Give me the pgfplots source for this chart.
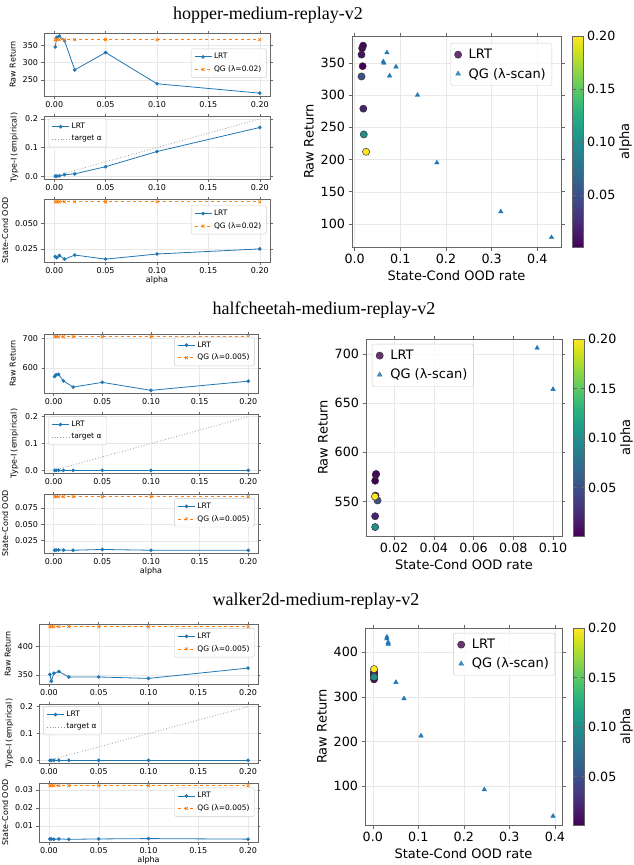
\documentclass[border=0pt]{standalone}
\usepackage{fontspec}
\setmainfont{DejaVu Sans}
\newfontfamily\titlefont{Liberation Serif}
\usepackage{pgfplots}
\pgfplotsset{compat=1.18}
\definecolor{Cblue}{HTML}{1F77B4}
\definecolor{Corange}{HTML}{FF7F0E}
\definecolor{vdark}{HTML}{440154}

\pgfplotsset{
  base/.style={scale only axis, anchor=north west,
    axis line style={black!60}, tick style={black!60, line width=0.5pt},
    tick align=outside, grid=major, grid style={black!9, line width=0.4pt},
    /pgf/number format/assume math mode=true, scaled ticks=false,
    legend cell align=left,
    legend style={draw=black!20, rounded corners=1.5pt, fill=white, fill opacity=0.8, text opacity=1}},
  small/.style={base, xmin=-0.00995, xmax=0.20995,
    xtick={0,0.05,0.1,0.15,0.2},
    xticklabel style={/pgf/number format/.cd, fixed, fixed zerofill, precision=2},
    tick label style={font=\fontsize{8}{9}\selectfont},
    label style={font=\fontsize{8}{9}\selectfont},
    xlabel shift=-5pt,
    legend style={font=\fontsize{7.5}{8.5}\selectfont, inner xsep=3pt, inner ysep=2.5pt, row sep=1.5pt},
    major tick length=2.5pt},
  big/.style={base,
    tick label style={font=\fontsize{12.7}{14}\selectfont},
    label style={font=\fontsize{13}{15}\selectfont},
    legend style={font=\fontsize{13}{15}\selectfont, inner xsep=4pt, inner ysep=4pt, row sep=4pt,
      /tikz/every odd column/.append style={column sep=5pt}},
    major tick length=3.5pt,
    colormap/viridis, point meta min=0.001, point meta max=0.2,
    colorbar,
    xlabel={State-Cond OOD rate}, ylabel={Raw Return}},
  cbar/.style={colorbar style={at={(parent axis.north east)}, anchor=north west,
    xshift=3pt, width=11pt, scale only axis, height=#1,
    ytick={0.05,0.1,0.15,0.2}, yticklabel pos=right, ylabel near ticks,
    yticklabel style={/pgf/number format/.cd, fixed, fixed zerofill, precision=2, assume math mode=true},
    tick label style={font=\fontsize{12.7}{14}\selectfont},
    ylabel={alpha}, ylabel style={font=\fontsize{13}{15}\selectfont}, ylabel shift=-3pt,
    axis line style={black!60}, tick style={black!60}, major tick length=3.5pt}},
  lrt/.style={Cblue, line width=0.8pt, mark=*, mark size=1.4pt},
  qg/.style={Corange, line width=0.8pt, dashed, mark=x, mark size=2pt, mark options={solid}},
  tgt/.style={black!40, dotted, line width=0.8pt},
  lrtpts/.style={scatter, only marks, mark=*, mark size=3.6pt, scatter src=explicit,
    scatter/use mapped color={draw=black!80, fill=mapped color}, line width=0.5pt, forget plot},
  qgpts/.style={only marks, mark=triangle*, mark size=2.6pt, Cblue, forget plot},
  ptfmt/.style={yticklabel style={/pgf/number format/.cd, fixed, fixed zerofill, precision=1}},
  lrtleg/.style={only marks, mark=*, mark size=3.6pt, mark options={draw=black!80, fill=vdark, line width=0.5pt},
    legend image code/.code={\draw[mark repeat=2, mark phase=2, ##1] plot coordinates {(0pt,0pt) (13pt,0pt) (26pt,0pt)};}},
  qgleg/.style={only marks, mark=triangle*, mark size=2.8pt, Cblue,
    legend image code/.code={\draw[mark repeat=2, mark phase=2, ##1] plot coordinates {(0pt,0pt) (13pt,0pt) (26pt,0pt)};}},
}

\begin{document}
\begin{tikzpicture}
\path[use as bounding box] (0pt,0pt) rectangle (634pt,-865pt);

% ---------------- hopper ----------------
\node[font=\titlefont\fontsize{18}{20}\selectfont] at (268pt,-15pt) {hopper-medium-replay-v2};

\begin{axis}[small, at={(44pt,-33pt)}, width=226pt, height=63pt,
  ymin=203.75, ymax=385.25, ytick={250,300,350}, ylabel={Raw Return},
  legend style={at={(0.985,0.52)}, anchor=east}]
\addplot[lrt] coordinates {(0.001,345) (0.0025,373) (0.005,377) (0.01,363) (0.02,279) (0.05,329) (0.1,239) (0.2,212)};
\addlegendentry{LRT}
\addplot[qg] coordinates {(0.001,366) (0.0025,366) (0.005,366) (0.01,366) (0.02,366) (0.05,366) (0.1,366) (0.2,366)};
\addlegendentry{QG (λ=0.02)}
\end{axis}

\begin{axis}[small, ptfmt, at={(44pt,-116pt)}, width=226pt, height=63pt,
  ymin=-0.01, ymax=0.21, ytick={0,0.1,0.2}, ylabel={Type-I (empirical)},
  legend style={at={(0.02,0.96)}, anchor=north west}]
\addplot[lrt] coordinates {(0.001,0) (0.0025,0) (0.005,0.001) (0.01,0.005) (0.02,0.008) (0.05,0.033) (0.1,0.086) (0.2,0.170)};
\addlegendentry{LRT}
\addplot[tgt] coordinates {(0.001,0.001) (0.0025,0.0025) (0.005,0.005) (0.01,0.01) (0.02,0.02) (0.05,0.05) (0.1,0.1) (0.2,0.2)};
\addlegendentry{target α}
\end{axis}

\begin{axis}[small, at={(44pt,-199pt)}, width=226pt, height=63pt,
  ymin=0.0122, ymax=0.0737, ytick={0.025,0.05},
  yticklabel style={/pgf/number format/.cd, fixed, fixed zerofill, precision=3},
  ylabel={State-Cond OOD}, xlabel={alpha},
  legend style={at={(0.985,0.9)}, anchor=north east}]
\addplot[lrt] coordinates {(0.001,0.0175) (0.0025,0.0165) (0.005,0.0185) (0.01,0.0150) (0.02,0.0190) (0.05,0.0150) (0.1,0.0200) (0.2,0.0250)};
\addlegendentry{LRT}
\addplot[qg] coordinates {(0.001,0.0709) (0.0025,0.0709) (0.005,0.0709) (0.01,0.0709) (0.02,0.0709) (0.05,0.0709) (0.1,0.0709) (0.2,0.0709)};
\addlegendentry{QG (λ=0.02)}
\end{axis}

\begin{axis}[big, cbar=211pt, at={(352pt,-36pt)}, width=209pt, height=211pt,
  xmin=-0.0058, xmax=0.4518, ymin=64.1, ymax=391.9,
  xtick={0,0.1,0.2,0.3,0.4}, ytick={100,150,200,250,300,350},
  xticklabel style={/pgf/number format/.cd, fixed, fixed zerofill, precision=1},
  legend style={at={(0.957,0.967)}, anchor=north east}]
\addplot[lrtpts] table[meta=a] {
x y a
0.0175 345 0.001
0.0165 373 0.0025
0.0185 377 0.005
0.0150 363 0.01
0.0190 279 0.02
0.0150 329 0.05
0.0200 239 0.1
0.0250 212 0.2
};
\addplot[qgpts] coordinates {(0.0707,366) (0.0626,352) (0.0640,350) (0.0906,344) (0.0765,330) (0.1377,300) (0.180,195) (0.320,119) (0.431,79)};
\addlegendimage{lrtleg}
\addlegendentry{LRT}
\addlegendimage{qgleg}
\addlegendentry{QG (λ-scan)}
\end{axis}

% ---------------- halfcheetah ----------------
\node[font=\titlefont\fontsize{18}{20}\selectfont] at (324pt,-310pt) {halfcheetah-medium-replay-v2};

\begin{axis}[small, at={(44pt,-334pt)}, width=214pt, height=59pt,
  ymin=514.9, ymax=715.1, ytick={600,700}, ylabel={Raw Return},
  legend style={at={(0.985,0.95)}, anchor=north east}]
\addplot[lrt] coordinates {(0.001,571) (0.0025,577) (0.005,578) (0.01,556) (0.02,535) (0.05,551) (0.1,524) (0.2,555)};
\addlegendentry{LRT}
\addplot[qg] coordinates {(0.001,706) (0.0025,706) (0.005,706) (0.01,706) (0.02,706) (0.05,706) (0.1,706) (0.2,706)};
\addlegendentry{QG (λ=0.005)}
\end{axis}

\begin{axis}[small, ptfmt, at={(44pt,-414pt)}, width=214pt, height=59pt,
  ymin=-0.01, ymax=0.21, ytick={0,0.1,0.2}, ylabel={Type-I (empirical)},
  legend style={at={(0.02,0.96)}, anchor=north west}]
\addplot[lrt] coordinates {(0.001,0) (0.0025,0) (0.005,0) (0.01,0) (0.02,0) (0.05,0) (0.1,0) (0.2,0)};
\addlegendentry{LRT}
\addplot[tgt] coordinates {(0.001,0.001) (0.0025,0.0025) (0.005,0.005) (0.01,0.01) (0.02,0.02) (0.05,0.05) (0.1,0.1) (0.2,0.2)};
\addlegendentry{target α}
\end{axis}

\begin{axis}[small, at={(44pt,-494pt)}, width=214pt, height=59pt,
  ymin=0.0063, ymax=0.0961, ytick={0.025,0.05,0.075},
  yticklabel style={/pgf/number format/.cd, fixed, fixed zerofill, precision=3},
  ylabel={State-Cond OOD}, xlabel={alpha},
  legend style={at={(0.985,0.93)}, anchor=north east}]
\addplot[lrt] coordinates {(0.001,0.0105) (0.0025,0.0108) (0.005,0.0110) (0.01,0.0107) (0.02,0.0105) (0.05,0.0117) (0.1,0.0105) (0.2,0.0104)};
\addlegendentry{LRT}
\addplot[qg] coordinates {(0.001,0.092) (0.0025,0.092) (0.005,0.092) (0.01,0.092) (0.02,0.092) (0.05,0.092) (0.1,0.092) (0.2,0.092)};
\addlegendentry{QG (λ=0.005)}
\end{axis}

\begin{axis}[big, cbar=197pt, at={(366pt,-339pt)}, width=196pt, height=197pt,
  xmin=0.0059, xmax=0.1045, ymin=514.9, ymax=715.1,
  xtick={0.02,0.04,0.06,0.08,0.1}, ytick={550,600,650,700},
  xticklabel style={/pgf/number format/.cd, fixed, fixed zerofill, precision=2},
  legend style={at={(0.03,0.975)}, anchor=north west}]
\addplot[lrtpts] table[meta=a] {
x y a
0.0105 571 0.001
0.0108 577 0.0025
0.0110 578 0.005
0.0107 556 0.01
0.0105 535 0.02
0.0117 551 0.05
0.0105 524 0.1
0.0104 555 0.2
};
\addplot[qgpts] coordinates {(0.092,706) (0.100,664)};
\addlegendimage{lrtleg}
\addlegendentry{LRT}
\addlegendimage{qgleg}
\addlegendentry{QG (λ-scan)}
\end{axis}

% ---------------- walker2d ----------------
\node[font=\titlefont\fontsize{18}{20}\selectfont] at (316pt,-601pt) {walker2d-medium-replay-v2};

\begin{axis}[small, at={(39pt,-624pt)}, width=219pt, height=60pt,
  ymin=334.25, ymax=438.75, ytick={350,400}, ylabel={Raw Return},
  legend style={at={(0.985,0.93)}, anchor=north east}]
\addplot[lrt] coordinates {(0.001,351) (0.0025,339) (0.005,353) (0.01,356) (0.02,346.5) (0.05,346.5) (0.1,344) (0.2,362)};
\addlegendentry{LRT}
\addplot[qg] coordinates {(0.001,434) (0.0025,434) (0.005,434) (0.01,434) (0.02,434) (0.05,434) (0.1,434) (0.2,434)};
\addlegendentry{QG (λ=0.005)}
\end{axis}

\begin{axis}[small, ptfmt, at={(39pt,-704pt)}, width=219pt, height=59pt,
  ymin=-0.01, ymax=0.21, ytick={0,0.1,0.2}, ylabel={Type-I (empirical)},
  legend style={at={(0.02,0.96)}, anchor=north west}]
\addplot[lrt] coordinates {(0.001,0) (0.0025,0) (0.005,0) (0.01,0) (0.02,0) (0.05,0) (0.1,0) (0.2,0)};
\addlegendentry{LRT}
\addplot[tgt] coordinates {(0.001,0.001) (0.0025,0.0025) (0.005,0.005) (0.01,0.01) (0.02,0.02) (0.05,0.05) (0.1,0.1) (0.2,0.2)};
\addlegendentry{target α}
\end{axis}

\begin{axis}[small, at={(39pt,-783pt)}, width=219pt, height=59pt,
  ymin=0.0011, ymax=0.0339, ytick={0.01,0.02,0.03},
  yticklabel style={/pgf/number format/.cd, fixed, fixed zerofill, precision=2},
  ylabel={State-Cond OOD}, xlabel={alpha},
  legend style={at={(0.985,0.92)}, anchor=north east}]
\addplot[lrt] coordinates {(0.001,0.0028) (0.0025,0.0028) (0.005,0.0026) (0.01,0.0028) (0.02,0.0026) (0.05,0.0028) (0.1,0.0030) (0.2,0.0027)};
\addlegendentry{LRT}
\addplot[qg] coordinates {(0.001,0.0324) (0.0025,0.0324) (0.005,0.0324) (0.01,0.0324) (0.02,0.0324) (0.05,0.0324) (0.1,0.0324) (0.2,0.0324)};
\addlegendentry{QG (λ=0.005)}
\end{axis}

\begin{axis}[big, cbar=197pt, at={(365pt,-628pt)}, width=197pt, height=197pt,
  xmin=-0.0171, xmax=0.4157, ymin=13, ymax=454,
  xtick={0,0.1,0.2,0.3,0.4}, ytick={100,200,300,400},
  xticklabel style={/pgf/number format/.cd, fixed, fixed zerofill, precision=1},
  legend style={at={(0.965,0.975)}, anchor=north east}]
\addplot[lrtpts] table[meta=a] {
x y a
0.0028 351 0.001
0.0028 339 0.0025
0.0026 353 0.005
0.0028 356 0.01
0.0026 346.5 0.02
0.0028 346.5 0.05
0.0030 344 0.1
0.0027 362 0.2
};
\addplot[qgpts] coordinates {(0.031,434) (0.031,430) (0.0339,422) (0.034,418) (0.0508,332.5) (0.0685,296) (0.106,212.7) (0.245,92.4) (0.396,33)};
\addlegendimage{lrtleg}
\addlegendentry{LRT}
\addlegendimage{qgleg}
\addlegendentry{QG (λ-scan)}
\end{axis}
\end{tikzpicture}
\end{document}
